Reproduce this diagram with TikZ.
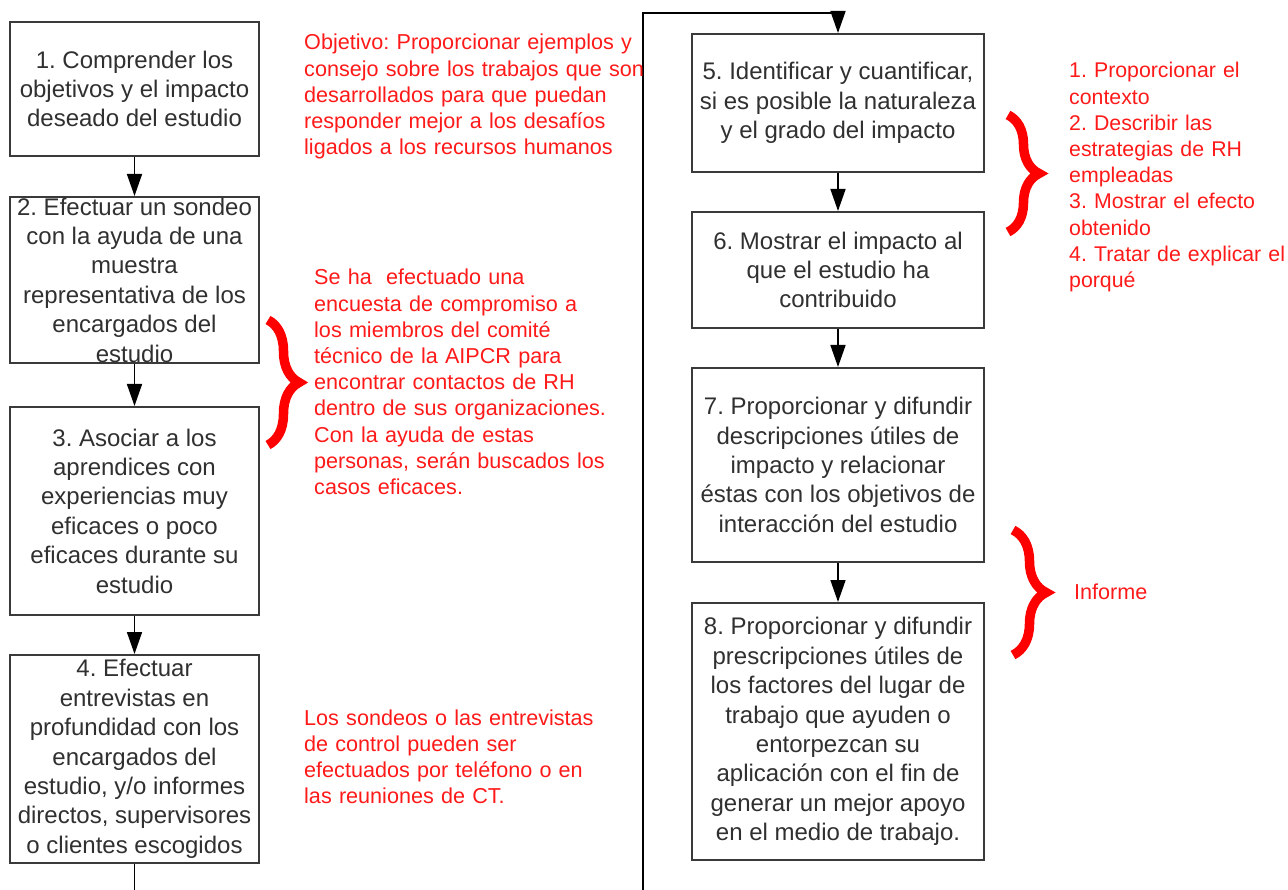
\documentclass[tikz,border=0pt]{standalone}
\usepackage{fontspec}
\setmainfont{Liberation Sans}
\usetikzlibrary{arrows.meta,decorations.pathreplacing}

\definecolor{boxline}{HTML}{3A3A3A}
\definecolor{boxtext}{HTML}{303030}
\definecolor{notered}{HTML}{FF1A1A}

\tikzset{
  stepbox/.style={draw=boxline, line width=2pt, fill=white, inner sep=0pt,
    align=center, text=boxtext, font=\frenchspacing\fontsize{24}{29.4}\selectfont},
  flow/.style={draw=black, line width=1.6pt,
    -{Triangle[length=22pt,width=15pt]}},
  plain/.style={draw=black, line width=1.6pt},
  note/.style={text=notered, inner sep=0pt, anchor=base west, align=left,
    text width=360pt, font=\frenchspacing\fontsize{21.6}{26.2}\selectfont},
  curly/.style={draw=red, line width=9.5pt, decorate,
    decoration={brace, amplitude=#1}},
}

\begin{document}
\begin{tikzpicture}[x=1pt, y=-1pt]
\useasboundingbox[fill=white] (0,0) rectangle (1288,890);

% left column
\node[stepbox, minimum width=249pt, minimum height=134pt] (b1) at (134.5,89)
  {1. Comprender los\\objetivos y el impacto\\deseado del estudio};
\node[stepbox, minimum width=249pt, minimum height=166pt] (b2) at (134.5,280)
  {2. Efectuar un sondeo\\con la ayuda de una\\muestra\\representativa de los\\encargados del\\estudio};
\node[stepbox, minimum width=249pt, minimum height=208pt] (b3) at (134.5,511)
  {3. Asociar a los\\aprendices con\\experiencias muy\\eficaces o poco\\eficaces durante su\\estudio};
\node[stepbox, minimum width=249pt, minimum height=208pt] (b4) at (134.5,759)
  {4. Efectuar\\entrevistas en\\profundidad con los\\encargados del\\estudio, y/o informes\\directos, supervisores\\o clientes escogidos};

% right column
\node[stepbox, minimum width=292pt, minimum height=138pt] (b5) at (838,103)
  {5. Identificar y cuantificar,\\si es posible la naturaleza\\y el grado del impacto};
\node[stepbox, minimum width=292pt, minimum height=116pt] (b6) at (838,270)
  {6. Mostrar el impacto al\\que el estudio ha\\contribuido};
\node[stepbox, minimum width=292pt, minimum height=194pt] (b7) at (838,465)
  {7. Proporcionar y difundir\\descripciones útiles de\\impacto y relacionar\\éstas con los objetivos de\\interacción del estudio};
\node[stepbox, minimum width=292pt, minimum height=257pt] (b8) at (838,731.5)
  {8. Proporcionar y difundir\\prescripciones útiles de\\los factores del lugar de\\trabajo que ayuden o\\entorpezcan su\\aplicación con el fin de\\generar un mejor apoyo\\en el medio de trabajo.};

% connectors
\draw[flow] (b1) -- (b2);
\draw[flow] (b2) -- (b3);
\draw[flow] (b3) -- (b4);
\coordinate (leftout) at (134.5,890);
\draw[plain] (b4) -- (leftout);
\coordinate (rightin) at (643,890);
\coordinate (topturn) at (643,13);
\draw[flow] (rightin) -- (topturn) -| (b5.north);
\draw[flow] (b5) -- (b6);
\draw[flow] (b6) -- (b7);
\draw[flow] (b7) -- (b8);

% notes
\node[note] (nA) at (304,50)
  {Objetivo: Proporcionar ejemplos y\\consejo sobre los trabajos que son\\desarrollados para que puedan\\responder mejor a los desafíos\\ligados a los recursos humanos};
\node[note] (nB) at (314,285)
  {Se ha\ \ efectuado una\\encuesta de compromiso a\\los miembros del comité\\técnico de la AIPCR para\\encontrar contactos de RH\\dentro de sus organizaciones.\\Con la ayuda de estas\\personas, serán buscados los\\casos eficaces.};
\node[note] (nC) at (304,725)
  {Los sondeos o las entrevistas\\de control pueden ser\\efectuados por teléfono o en\\las reuniones de CT.};
\node[note, font=\frenchspacing\fontsize{21.3}{26.2}\selectfont] (nD) at (1069,78)
  {1. Proporcionar el\\contexto\\2. Describir las\\estrategias de RH\\empleadas\\3. Mostrar el efecto\\obtenido\\4. Tratar de explicar el\\porqué};
\node[note] (nE) at (1074,599) {Informe};

% braces
\coordinate (brBt) at (268,320);
\coordinate (brBb) at (268,445);
\draw[curly=31pt] (brBt) -- (brBb);
\coordinate (brDt) at (1008,115);
\coordinate (brDb) at (1008,232);
\draw[curly=31pt] (brDt) -- (brDb);
\coordinate (brEt) at (1013,530);
\coordinate (brEb) at (1013,655);
\draw[curly=33pt] (brEt) -- (brEb);
\end{tikzpicture}
\end{document}
